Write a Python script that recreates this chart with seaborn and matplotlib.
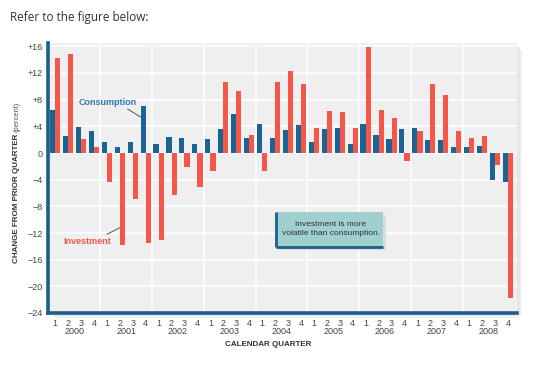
import matplotlib
matplotlib.use("Agg")
import matplotlib.pyplot as plt
import seaborn as sns
import pandas as pd
import numpy as np
from matplotlib.patches import FancyBboxPatch, Rectangle
import matplotlib.transforms as mtransforms

# ---- data ----
years = ["2000", "2001", "2002", "2003", "2004", "2005", "2006", "2007", "2008"]
quarter_labels = ["1", "2", "3", "4"]
consumption = [6.5, 2.5, 3.85, 3.35, 1.6, 0.95, 1.7, 7.0, 1.35, 2.35, 2.25, 1.4,
               2.1, 3.6, 5.8, 2.25, 4.35, 2.3, 3.45, 4.2, 1.65, 3.6, 3.7, 1.35,
               4.3, 2.75, 2.1, 3.65, 3.8, 1.95, 1.95, 0.95, 0.9, 1.1, -4.0, -4.35]
investment = [14.3, 14.85, 2.15, 0.9, -4.35, -13.75, -6.9, -13.5, -13.0, -6.25, -2.05, -5.1,
              -2.65, 10.65, 9.35, 2.75, -2.65, 10.65, 12.25, 10.35, 3.7, 6.25, 6.1, 3.7,
              15.95, 6.45, 5.3, -1.15, 3.35, 10.35, 8.7, 3.35, 2.3, 2.5, -1.8, -21.75]
y_ticks = [16, 12, 8, 4, 0, -4, -8, -12, -16, -20, -24]
y_tick_labels = ["+16", "+12", "+8", "+4", "0", "\u22124", "\u22128", "\u221212",
                 "\u221216", "\u221220", "\u221224"]

n = len(consumption)
df = pd.DataFrame({
    "idx": list(range(n)) * 2,
    "value": consumption + investment,
    "series": ["Consumption"] * n + ["Investment"] * n,
})

BLUE = "#1b6391"
RED = "#f5564a"
DARK = "#1d5d8a"

sns.set_theme(style="white")
plt.rcParams["font.family"] = ["Liberation Sans", "DejaVu Sans"]

fig = plt.figure(figsize=(5.6, 3.76), dpi=100)
fig.patch.set_facecolor("white")
ax = fig.add_axes([48 / 560, 1 - 313 / 376, (517 - 48) / 560, (313 - 43) / 376])
ax.set_zorder(2)

# soft shadow behind the panel
for off, col in [(5, "#f1f1f1"), (3, "#e6e6e6")]:
    sh = FancyBboxPatch(((48 + off) / 560, 1 - (313 + off) / 376),
                        (517 - 48) / 560, (313 - 43) / 376,
                        boxstyle="round,pad=0,rounding_size=0.012",
                        transform=fig.transFigure, facecolor=col, edgecolor="none")
    sh.set_zorder(0)
    fig.add_artist(sh)
ax.set_facecolor("#efefef")

sns.barplot(data=df, x="idx", y="value", hue="series",
            hue_order=["Consumption", "Investment"],
            palette=[BLUE, RED], width=0.8, saturation=1, gap=0,
            linewidth=0, edgecolor="none",
            legend=False, ax=ax, zorder=3)

ax.set_xlim(-0.55, n - 0.3)
ax.set_ylim(-24, 16.5)

# grid
for yv in y_ticks:
    ax.axhline(yv, color="#f9fcff", lw=1.3, zorder=1)
for k in range(1, len(years)):
    ax.axvline(4 * k - 0.5, color="#f9fcff", lw=1.3, zorder=1)

for s in ["top", "right"]:
    ax.spines[s].set_visible(False)
for s in ["left", "bottom"]:
    ax.spines[s].set_color(DARK)
    ax.spines[s].set_linewidth(2.6)
    ax.spines[s].set_zorder(5)

ax.set_yticks(y_ticks)
ax.set_yticklabels(y_tick_labels, fontsize=6.5, color="#444444")
ax.set_xticks(list(range(n)))
ax.set_xticklabels(quarter_labels * len(years), fontsize=6.5, color="#444444")
ax.tick_params(axis="both", length=0, pad=4)
ax.tick_params(axis="x", pad=4)
ax.set_xlabel("")
ax.set_ylabel("")

trans = mtransforms.blended_transform_factory(ax.transData, ax.transAxes)
for k, yr in enumerate(years):
    ax.text(4 * k + 1.5, -0.05, yr, transform=trans, ha="center", va="top",
            fontsize=6.5, color="#444444")

fig.text(268 / 560, 1 - 344 / 376, "CALENDAR QUARTER", ha="center", va="center",
         fontsize=5.8, fontweight="bold", color="#333333")

# y label
fig.text(17 / 560, 1 - 134 / 376, "CHANGE FROM PRIOR QUARTER", rotation=90,
         ha="center", va="top", fontsize=5.8, fontweight="bold", color="#333333")
fig.text(17 / 560, 1 - 132 / 376, "(percent)", rotation=90,
         ha="center", va="bottom", fontsize=5.4, color="#555555")

fig.text(10 / 560, 1 - 17 / 376, "Refer to the figure below:", ha="left", va="center",
         fontsize=8.5, color="#333333", family=["Open Sans", "DejaVu Sans"])

# labels with leader lines
ax.text(1.85, 7.6, "Consumption", color="#2e79aa", fontsize=6.5, fontweight="bold",
        ha="left", va="center", zorder=6)
ax.plot([5.6, 6.6], [6.6, 5.4], color="#555555", lw=0.7, zorder=6)
ax.text(0.6, -13.3, "Investment", color="#f0594e", fontsize=6.5, fontweight="bold",
        ha="left", va="center", zorder=6)
ax.plot([4.0, 5.0], [-12.2, -11.2], color="#555555", lw=0.7, zorder=6)

# annotation box
bx0, bx1 = 17.1, 25.35
by0, by1 = -14.1, -8.9
ax.add_patch(Rectangle((bx0 + 0.2, by0 - 0.4), bx1 - bx0, by1 - by0,
                       facecolor="#d6dde0", edgecolor="none", zorder=6))
ax.add_patch(Rectangle((bx0, by0), bx1 - bx0, by1 - by0,
                       facecolor="#9fcfcf", edgecolor="none", zorder=7))
ax.plot([bx0, bx0], [by0, by1], color=DARK, lw=2, zorder=8, solid_capstyle="butt")
ax.plot([bx0, bx1], [by0, by0], color=DARK, lw=2, zorder=8, solid_capstyle="butt")
ax.text((bx0 + bx1) / 2 + 0.1, (by0 + by1) / 2 + 0.1,
        "Investment is more\nvolatile than consumption.",
        ha="center", va="center", fontsize=6, color="#333333", zorder=9,
        linespacing=1.3)

fig.savefig("out.png", dpi=100)
